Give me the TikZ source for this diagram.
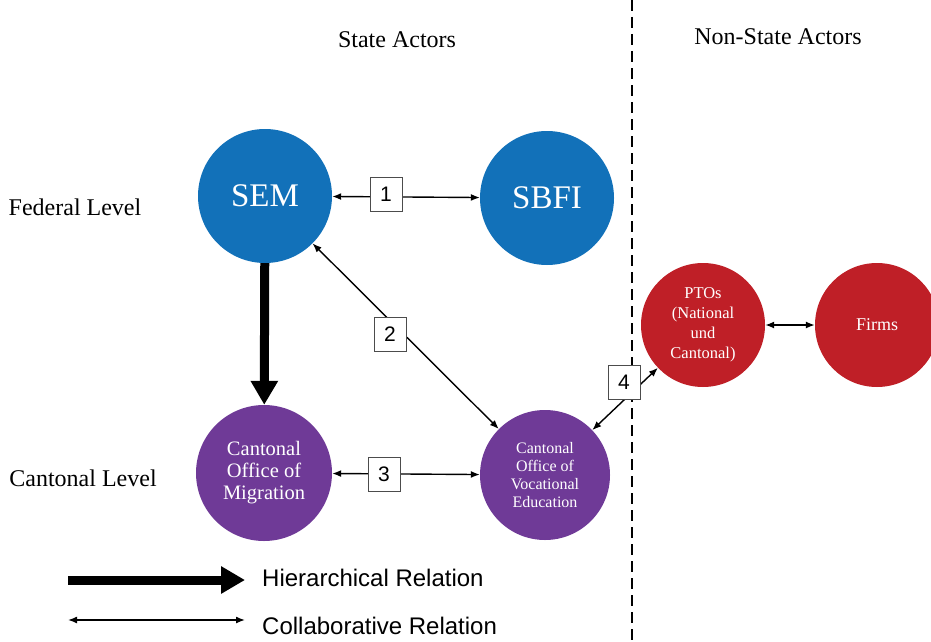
\documentclass[tikz,border=0pt]{standalone}
\usepackage{fontspec}
\setmainfont{Liberation Serif}
\setsansfont{Liberation Sans}
\usetikzlibrary{arrows,arrows.meta}

\definecolor{fedblue}{HTML}{1271B9}
\definecolor{cantpurple}{HTML}{6F3A97}
\definecolor{privred}{HTML}{BF1F27}

\begin{document}
\begin{tikzpicture}[x=1pt,y=-1pt]
	\tikzstyle{every node}=[inner sep=0pt]
	\tikzstyle{actor}=[circle, minimum size=134pt, text=white, align=center]
	\tikzstyle{numbox}=[draw=black!70, fill=white, minimum width=32pt, minimum height=34pt, font=\sffamily\fontsize{21}{21}\selectfont]
	\tikzstyle{collab}=[{Latex[length=9pt,width=7pt]}-{Latex[length=9pt,width=7pt]}, line width=1.4pt]
	\tikzstyle{hier}=[-{Triangle[length=24pt,width=26pt]}, line width=9pt]
	\tikzstyle{heading}=[font=\fontsize{24}{28}\selectfont]
	\useasboundingbox (0,0) rectangle (931,642);
	% headings
	\draw (397,40) node (state) [heading] {State Actors};
	\draw (778,37) node (nonstate) [heading] {Non-State Actors};
	\draw (75,207) node (federal) [heading] {Federal Level};
	\draw (83,478) node (cantonal) [heading] {Cantonal Level};
	\draw[dashed, dash pattern=on 11pt off 6pt, line width=1.8pt] (632,0) -- (632,642);
	% actors
	\draw (265,196) node (sem) [actor, fill=fedblue, font=\fontsize{33}{33}\selectfont] {SEM};
	\draw (547,198) node (sbfi) [actor, fill=fedblue, font=\fontsize{33}{33}\selectfont] {SBFI};
	\draw (264,473) node (com) [actor, minimum size=136pt, fill=cantpurple, font=\fontsize{20.5}{22}\selectfont] {Cantonal\\Office of\\Migration};
	\draw (545,475) node (cove) [actor, minimum size=130pt, fill=cantpurple, font=\fontsize{16}{18.3}\selectfont] {Cantonal\\Office of\\Vocational\\Education};
	\draw (703,325) node (ptos) [actor, minimum size=124pt, fill=privred, font=\fontsize{16.5}{20}\selectfont] {PTOs\\(National\\und\\Cantonal)};
	\draw (877,325) node (firms) [actor, minimum size=124pt, fill=privred, font=\fontsize{18}{20}\selectfont] {Firms};
	% relations
	\draw[hier] (sem) -- (com);
	\draw[collab] (sem) -- (sbfi);
	\draw[collab] (sem) -- (cove);
	\draw[collab] (com) -- (cove);
	\draw[collab] (cove) -- (ptos);
	\draw[collab] (ptos) -- (firms);
	\draw (386,194) node (n1) [numbox] {1};
	\draw (390,334) node (n2) [numbox] {2};
	\draw (384,474) node (n3) [numbox] {3};
	\draw (624,382) node (n4) [numbox] {4};
	% legend
	\coordinate (h1) at (68,580);
	\coordinate (h2) at (245,580);
	\coordinate (c1) at (68,620);
	\coordinate (c2) at (245,620);
	\draw[hier] (h1) -- (h2);
	\draw[collab] (c1) -- (c2);
	\draw (262,578) node (hlab) [anchor=west, font=\sffamily\fontsize{24}{28}\selectfont] {Hierarchical Relation};
	\draw (262,626) node (clab) [anchor=west, font=\sffamily\fontsize{24}{28}\selectfont] {Collaborative Relation};
\end{tikzpicture}
\end{document}
